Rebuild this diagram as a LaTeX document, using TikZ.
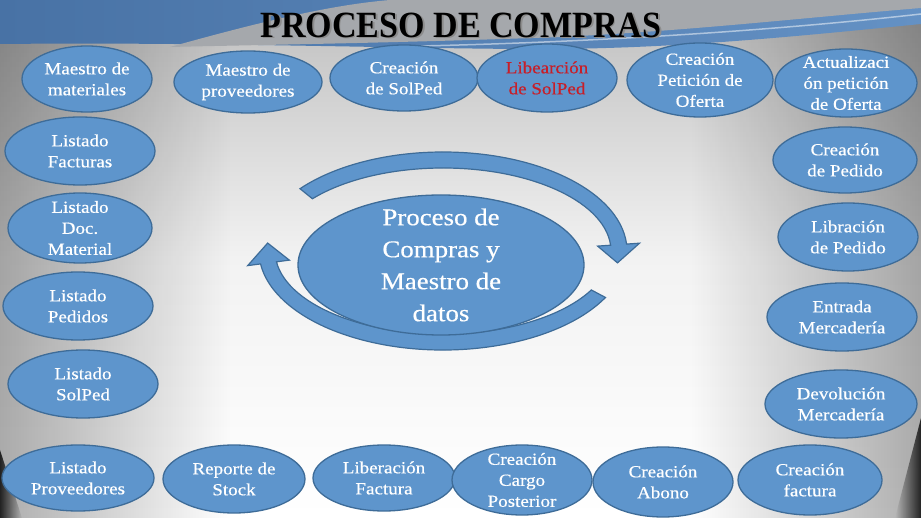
\documentclass[tikz,border=0pt]{standalone}
\usepackage{fontspec}
\setmainfont{Liberation Serif}[FakeStretch=1.12,FakeBold=0.5]
\newfontfamily\titlefont{Liberation Serif}[FakeStretch=0.92]
\usetikzlibrary{shapes.geometric,fadings}
\definecolor{ovalfill}{RGB}{94,149,204}
\definecolor{ovalline}{RGB}{62,108,152}
\definecolor{redtxt}{RGB}{200,30,40}
\definecolor{bgblueL}{RGB}{72,114,165}
\definecolor{bgblueR}{RGB}{100,145,196}
\definecolor{bggray}{RGB}{165,168,172}
\definecolor{bgtop}{RGB}{190,190,190}
\tikzset{
  oval/.style 2 args={ellipse, draw=ovalline, fill=ovalfill, line width=1.3pt,
    minimum width=#1pt, minimum height=#2pt, inner sep=0pt, outer sep=0pt},
  txt/.style={text=white, font=\fontsize{17}{21}\selectfont, align=center, inner sep=0pt},
  redt/.style={txt, text=redtxt},
  bigtxt/.style={text=white, font=\fontsize{24}{32}\selectfont, align=center, inner sep=0pt},
  bigarrow/.style={fill=ovalfill, draw=ovalline, line width=1.2pt, line join=miter}
}
\begin{document}
\begin{tikzpicture}[x=1pt,y=-1pt]
\useasboundingbox (0,0) rectangle (921,518);
% ---------- background ----------
\shade[top color=bgtop, bottom color=white, middle color=white!95!black] (0,0) rectangle (921,518);
\fill[black, opacity=0.32, path fading=east] (0,0) rectangle (230,518);
\fill[black, opacity=0.32, path fading=west] (691,0) rectangle (921,518);
\fill[black, opacity=0.8, path fading=east] (0,450) -- (22,518) -- (0,518) -- cycle;
\fill[black, opacity=0.8, path fading=west] (921,418) -- (921,518) -- (895,518) -- cycle;
\shade[left color=bgblueL, right color=bgblueR]
  (0,0) -- (921,0) -- (921,24) .. controls (780,38) and (660,50) .. (520,49)
  .. controls (380,48) and (200,42) .. (0,44) -- cycle;
\fill[bggray]
  (170,47) .. controls (260,22) and (330,5) .. (390,0) -- (921,0) -- (921,8)
  .. controls (800,18) and (700,30) .. (560,37) .. controls (400,43) and (250,45) .. (170,47) -- cycle;
\draw[white, opacity=0.5, line width=1.5pt]
  (420,46) .. controls (600,42) and (780,30) .. (921,14);
% ---------- title ----------
\node[text=black!45, font=\titlefont\bfseries\fontsize{37}{40}\selectfont, inner sep=0pt] at (462.5,26.5) {PROCESO DE COMPRAS};
\node (title) [text=black, font=\titlefont\bfseries\fontsize{37}{40}\selectfont, inner sep=0pt] at (461,25) {PROCESO DE COMPRAS};
% ---------- circular arrows ----------
\begin{scope}[shift={(443,251)}]
\filldraw[bigarrow] (219:184 and 99) arc[start angle=219, end angle=356, x radius=184, y radius=99]
  -- (356:197 and 112) -- (367.5:176 and 91) -- (356:155 and 70) -- (356:168 and 83)
  arc[start angle=356, end angle=219, x radius=168, y radius=83] -- cycle;
\filldraw[bigarrow] (28:184 and 99) arc[start angle=28, end angle=172.5, x radius=184, y radius=99]
  -- (172.5:197 and 112) -- (185:176 and 91) -- (172.5:155 and 70) -- (172.5:168 and 83)
  arc[start angle=172.5, end angle=28, x radius=168, y radius=83] -- cycle;
\end{scope}
% ---------- centre ----------
\node[oval={286}{140}, label={[bigtxt]center:Proceso de\\Compras y\\Maestro de\\datos}] (centre) at (441,265) {};
% ---------- top row ----------
\node[oval={130}{66}, label={[txt]center:Maestro de\\materiales}] (mm) at (87,79) {};
\node[oval={148}{62}, label={[txt]center:Maestro de\\proveedores}] (mp) at (248,82) {};
\node[oval={148}{66}, label={[txt]center:Creación\\de SolPed}] (cs) at (404,78) {};
\node[oval={140}{68}, label={[redt]center:Libearción\\de SolPed}] (ls) at (547,78) {};
\node[oval={146}{74}, label={[txt]center:Creación\\Petición de\\Oferta}] (cp) at (700,80) {};
\node[oval={142}{68}, label={[txt]center:Actualizaci\\ón petición\\de Oferta}] (ap) at (846,83) {};
% ---------- left column ----------
\node[oval={150}{68}, label={[txt]center:Listado\\Facturas}] (lf) at (80,151) {};
\node[oval={144}{70}, label={[txt]center:Listado\\Doc.\\Material}] (ld) at (80,228) {};
\node[oval={150}{68}, label={[txt]center:Listado\\Pedidos}] (lp) at (78,306) {};
\node[oval={150}{68}, label={[txt]center:Listado\\SolPed}] (lsp) at (83,384) {};
% ---------- right column ----------
\node[oval={144}{66}, label={[txt]center:Creación\\de Pedido}] (cpe) at (845,160) {};
\node[oval={140}{68}, label={[txt]center:Libración\\de Pedido}] (lpe) at (848,237) {};
\node[oval={150}{68}, label={[txt]center:Entrada\\Mercadería}] (em) at (842,317) {};
\node[oval={152}{68}, label={[txt]center:Devolución\\Mercadería}] (dm) at (841,404) {};
% ---------- bottom row ----------
\node[oval={152}{66}, label={[txt]center:Listado\\Proveedores}] (lpr) at (78,478) {};
\node[oval={142}{68}, label={[txt]center:Reporte de\\Stock}] (rs) at (234,479) {};
\node[oval={142}{66}, label={[txt]center:Liberación\\Factura}] (lfa) at (384,478) {};
\node[oval={140}{70}, label={[txt]center:Creación\\Cargo\\Posterior}] (ccp) at (522,480) {};
\node[oval={140}{70}, label={[txt]center:Creación\\Abono}] (ca) at (663,482) {};
\node[oval={144}{70}, label={[txt]center:Creación\\factura}] (cf) at (810,480) {};
\end{tikzpicture}
\end{document}
